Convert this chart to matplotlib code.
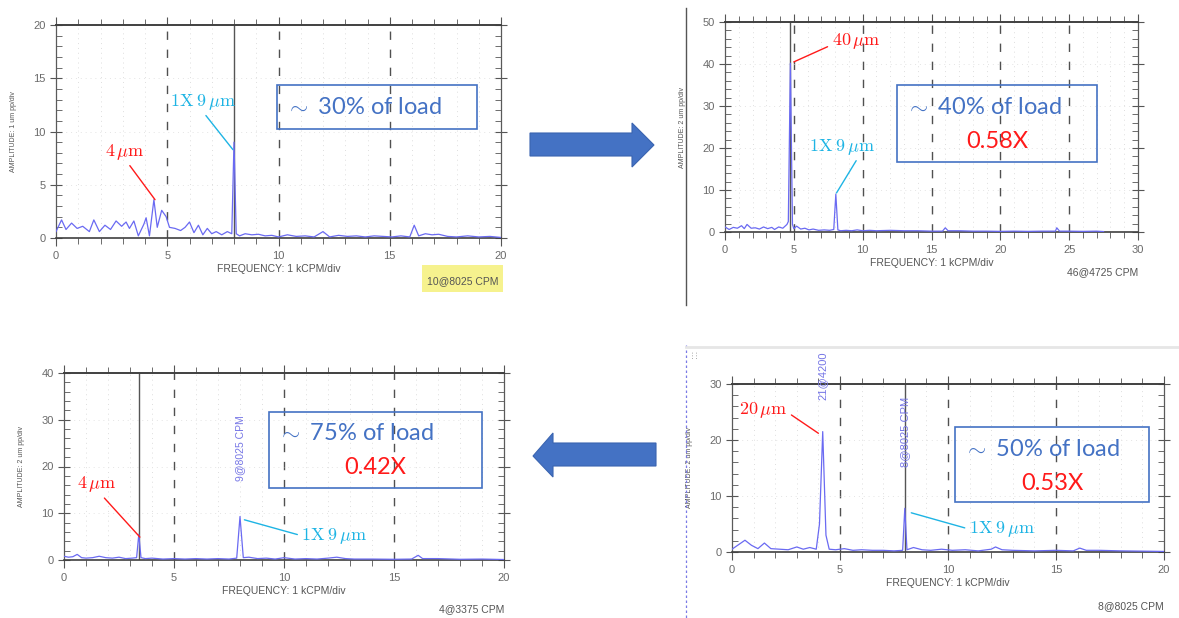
import matplotlib
matplotlib.use('Agg')
import matplotlib.pyplot as plt
import matplotlib.ticker as ticker
import matplotlib.patches as patches
import matplotlib.lines as mlines

plt.rcParams['mathtext.fontset'] = 'cm'

W, H = 1179, 618  # 圖片像素大小

# ---- 資料 (頻率 kCPM, 振幅) ----
# 約 30% 負載
freq_30 = [0.0, 0.25, 0.45, 0.7, 0.95, 1.2, 1.5, 1.7, 1.95, 2.2, 2.45, 2.7, 2.95, 3.15, 3.3, 3.5, 3.7, 3.95,
           4.05, 4.2, 4.4, 4.55, 4.75, 4.95, 5.1, 5.35, 5.6, 5.8, 6.0, 6.2, 6.4, 6.6, 6.8, 7.0, 7.2, 7.45, 7.7,
           7.9, 8.0, 8.1, 8.25, 8.5, 8.8, 9.1, 9.4, 9.7, 10.0, 10.4, 10.8, 11.2, 11.6, 12.0, 12.3, 12.7, 13.1,
           13.5, 13.9, 14.3, 14.7, 15.1, 15.5, 15.9, 16.1, 16.3, 16.6, 16.9, 17.2, 17.6, 18.0, 18.5, 19.0, 19.5, 20.0]
amp_30 = [0.6, 1.7, 0.8, 1.4, 0.9, 1.1, 0.6, 1.7, 0.6, 1.2, 0.8, 1.6, 1.1, 1.5, 0.9, 1.6, 0.2, 1.3,
          1.9, 0.2, 3.6, 1.0, 2.6, 2.0, 1.0, 0.9, 0.7, 1.0, 1.5, 0.5, 1.2, 0.3, 0.9, 0.4, 0.6, 0.3, 0.6,
          0.4, 9.0, 0.4, 0.2, 0.4, 0.3, 0.35, 0.2, 0.25, 0.1, 0.3, 0.15, 0.2, 0.1, 0.6, 0.1, 0.25, 0.15,
          0.2, 0.1, 0.2, 0.15, 0.1, 0.2, 0.1, 1.2, 0.2, 0.4, 0.3, 0.35, 0.15, 0.1, 0.2, 0.1, 0.15, 0.05]

# 約 40% 負載
freq_40 = [0.0, 0.3, 0.6, 0.9, 1.2, 1.4, 1.6, 1.9, 2.2, 2.5, 2.8, 3.1, 3.4, 3.6, 3.9, 4.2, 4.5, 4.6, 4.75,
           4.9, 5.0, 5.2, 5.5, 5.8, 6.1, 6.4, 6.8, 7.2, 7.6, 7.9, 8.05, 8.2, 8.4, 8.8, 9.2, 9.6, 10.0, 10.5,
           11.0, 12.0, 13.0, 14.0, 15.0, 15.8, 16.0, 16.2, 17.0, 18.0, 19.0, 20.0, 21.0, 22.0, 23.0, 24.0,
           24.1, 24.3, 25.0, 26.0, 27.0, 27.5]
amp_40 = [1.2, 0.6, 1.1, 0.9, 1.5, 0.8, 1.8, 0.9, 1.0, 0.7, 1.2, 0.8, 1.1, 0.6, 1.2, 0.9, 1.8, 2.5, 40.2,
          1.8, 0.8, 1.4, 0.7, 0.9, 0.5, 0.7, 0.4, 0.5, 0.4, 0.6, 9.0, 0.5, 0.3, 0.4, 0.3, 0.5, 0.3, 0.4,
          0.3, 0.4, 0.3, 0.3, 0.2, 0.2, 1.0, 0.3, 0.3, 0.2, 0.2, 0.15, 0.2, 0.15, 0.2, 0.2,
          1.0, 0.2, 0.2, 0.15, 0.2, 0.1]

# 約 75% 負載
freq_75 = [0.0, 0.2, 0.4, 0.6, 0.8, 1.0, 1.3, 1.6, 1.9, 2.2, 2.5, 2.8, 3.1, 3.3, 3.4, 3.5, 3.7, 4.0, 4.5,
           5.0, 5.5, 6.0, 6.5, 7.0, 7.5, 7.85, 8.0, 8.15, 8.4, 8.8, 9.2, 9.6, 10.0, 10.5, 11.0, 11.5, 12.0,
           12.4, 12.8, 13.2, 14.0, 15.0, 15.8, 16.1, 16.3, 17.0, 18.0, 19.0, 20.0]
amp_75 = [0.8, 0.6, 0.7, 1.2, 0.5, 0.4, 0.5, 0.8, 0.5, 0.4, 0.6, 0.3, 0.4, 0.5, 5.5, 0.5, 0.3, 0.4, 0.2,
          0.3, 0.2, 0.3, 0.2, 0.3, 0.2, 0.4, 9.3, 0.5, 0.6, 0.3, 0.4, 0.2, 0.5, 0.2, 0.3, 0.2, 0.4,
          0.6, 0.3, 0.2, 0.2, 0.15, 0.2, 1.0, 0.3, 0.3, 0.15, 0.2, 0.1]

# 約 50% 負載
freq_50 = [0.0, 0.3, 0.6, 0.9, 1.2, 1.5, 1.8, 2.2, 2.6, 3.0, 3.3, 3.6, 3.9, 4.05, 4.2, 4.35, 4.5, 4.8, 5.2,
           5.6, 6.0, 6.5, 7.0, 7.5, 7.9, 8.0, 8.1, 8.4, 8.8, 9.2, 9.7, 10.2, 10.8, 11.4, 12.0, 12.2, 12.5,
           13.0, 14.0, 15.0, 15.8, 16.1, 16.4, 17.0, 18.0, 19.0, 20.0]
amp_50 = [0.5, 1.3, 2.1, 1.2, 0.6, 1.6, 0.6, 0.5, 0.4, 0.9, 0.5, 0.8, 0.5, 5.0, 21.5, 3.0, 0.5, 0.4, 0.6,
          0.3, 0.4, 0.3, 0.3, 0.2, 0.3, 7.8, 0.4, 0.8, 0.4, 0.3, 0.5, 0.3, 0.4, 0.2, 0.5, 0.9, 0.4,
          0.3, 0.2, 0.3, 0.2, 0.7, 0.3, 0.3, 0.2, 0.15, 0.1]

BLUE = '#4472C4'
TRACE = '#6a6af2'
RED = '#ff1a1a'
CYAN = '#1eb4e4'
NARROW = ['Liberation Sans Narrow', 'Liberation Sans', 'DejaVu Sans']

fig = plt.figure(figsize=(W / 100, H / 100), dpi=100)
fig.patch.set_facecolor('white')


def fbox(x0, y0, x1, y1):  # 像素座標轉成圖片比例 [left, bottom, width, height]
    return [x0 / W, 1 - y1 / H, (x1 - x0) / W, (y1 - y0) / H]


def fxy(x, y):  # 像素點轉成圖片比例
    return x / W, 1 - y / H


def spectrum(box, freq, amp, xmax, ymax, ymajor, yminor, cursor, ylabel):
    ax = fig.add_axes(fbox(*box))
    ax.set_facecolor('none')
    ax.set_xlim(0, xmax)
    ax.set_ylim(0, ymax)
    ax.xaxis.set_major_locator(ticker.MultipleLocator(5))
    ax.xaxis.set_minor_locator(ticker.MultipleLocator(1))
    ax.yaxis.set_major_locator(ticker.MultipleLocator(ymajor))
    ax.yaxis.set_minor_locator(ticker.MultipleLocator(yminor))
    ax.grid(which='minor', axis='x', color='#dedede', ls=(0, (1, 4)), lw=0.7)
    ax.grid(which='major', axis='y', color='#e4e4e4', ls=(0, (1, 4)), lw=0.7)
    for v in range(5, int(xmax), 5):  # 粗虛線格線
        ax.axvline(v, color='#505050', ls=(0, (6, 7)), lw=1.0, zorder=1)
    ax.axvline(cursor, color='#555555', lw=1.0, zorder=2)
    ax.plot(freq, amp, color=TRACE, lw=0.9, zorder=3)
    ax.tick_params(axis='x', which='both', direction='out', top=True, bottom=True,
                   colors='#555555', labelsize=8, labelcolor='#6a6a6a')
    ax.tick_params(axis='x', which='major', length=6)
    ax.tick_params(axis='x', which='minor', length=4)
    ax.tick_params(axis='y', which='both', direction='in', left=True, right=True,
                   colors='#555555', labelsize=8, labelcolor='#6a6a6a')
    ax.tick_params(axis='y', which='major', direction='inout', length=8)
    ax.tick_params(axis='y', which='minor', length=4)
    for lab in ax.get_xticklabels() + ax.get_yticklabels():
        lab.set_fontfamily(NARROW)
    for s in ax.spines.values():
        s.set_color('#5a5a5a')
        s.set_linewidth(0.9)
    ax.spines['top'].set_linewidth(1.4)
    ax.spines['top'].set_color('#404040')
    ax.spines['bottom'].set_linewidth(1.2)
    ax.spines['bottom'].set_color('#404040')
    ax.set_xlabel('FREQUENCY: 1 kCPM/div', fontsize=7.5, color='#555555', family=NARROW, labelpad=2)
    ax.set_ylabel(ylabel, fontsize=5, color='#555555', family=NARROW, labelpad=12)
    return ax


def label_box(box, line1, line2=None):
    x0, y0, x1, y1 = box
    fig.patches.append(patches.Rectangle(fxy(x0, y1), (x1 - x0) / W, (y1 - y0) / H, fill=False,
                                         edgecolor=BLUE, lw=1.2, transform=fig.transFigure))
    cx = (x0 + x1) / 2
    if line2 is None:
        fig.text(*fxy(x0 + 8, (y0 + y1) / 2), line1, color=BLUE, fontsize=17, family='Lato',
                 ha='left', va='center')
    else:
        fig.text(*fxy(x0 + 8, y0 + 22), line1, color=BLUE, fontsize=17, family='Lato',
                 ha='left', va='center')
        fig.text(*fxy(cx, y0 + 56), line2, color=RED, fontsize=17, family='Lato',
                 ha='center', va='center')


def note(ax, txt, color, xy, xytext, relpos):
    ax.annotate(txt, xy=xy, xytext=xytext, color=color, fontsize=13, ha='center', va='center',
                annotation_clip=False,
                arrowprops=dict(arrowstyle='-', color=color, lw=1.0, relpos=relpos,
                                shrinkA=1, shrinkB=0))


MU4 = r'$4\,\mu\mathrm{m}$'
ONEX = r'$1\mathrm{X}\;9\,\mu\mathrm{m}$'

# ---- 左上：30% ----
ax1 = spectrum((56, 25, 501, 238), freq_30, amp_30, 20, 20, 5, 1, 8.0, 'AMPLITUDE: 1 um pp/div')
note(ax1, MU4, RED, (4.45, 3.6), (3.1, 8.1), (0.55, 0.0))
note(ax1, ONEX, CYAN, (7.95, 8.3), (6.6, 12.8), (0.5, 0.0))
label_box((277, 85, 477, 129), r'$\sim$ 30% of load')
fig.patches.append(patches.Rectangle(fxy(422, 292), 81 / W, 27 / H, facecolor='#f6f28e', edgecolor='none',
                                     transform=fig.transFigure))
fig.text(*fxy(463, 281), '10@8025 CPM', fontsize=7.5, color='#555555', family=NARROW, ha='center', va='center')

# ---- 右上：40% ----
ax2 = spectrum((725, 22, 1138, 232), freq_40, amp_40, 30, 50, 10, 2, 4.75, 'AMPLITUDE: 2 um pp/div')
note(ax2, r'$40\,\mu\mathrm{m}$', RED, (5.0, 40.5), (9.5, 45.5), (0.0, 0.3))
note(ax2, ONEX, CYAN, (8.1, 9.3), (8.5, 20.3), (0.75, 0.0))
label_box((897, 85, 1097, 162), r'$\sim$ 40% of load', '0.58X')
fig.text(*fxy(1138, 272), '46@4725 CPM', fontsize=7.5, color='#555555', family=NARROW, ha='right', va='center')
fig.lines.append(mlines.Line2D([686 / W, 686 / W], [1 - 8 / H, 1 - 305 / H], color='#555555', lw=1.0,
                               transform=fig.transFigure))

# ---- 左下：75% ----
ax3 = spectrum((64, 373, 504, 560), freq_75, amp_75, 20, 40, 10, 2, 3.4, 'AMPLITUDE: 2 um pp/div')
note(ax3, MU4, RED, (3.45, 4.9), (1.5, 16.2), (0.6, 0.0))
note(ax3, ONEX, CYAN, (8.2, 8.6), (12.3, 5.2), (0.0, 0.5))
ax3.text(8.0, 24, '9@8025 CPM', rotation=90, color='#7676e6', fontsize=7.5, family=NARROW,
         ha='center', va='center')
label_box((269, 412, 482, 488), r'$\sim$ 75% of load', '0.42X')
fig.text(*fxy(504, 609), '4@3375 CPM', fontsize=7.5, color='#555555', family=NARROW, ha='right', va='center')

# ---- 右下：50% ----
ax4 = spectrum((732, 384, 1164, 552), freq_50, amp_50, 20, 30, 10, 2, 8.0, 'AMPLITUDE: 2 um pp/div')
note(ax4, r'$20\,\mu\mathrm{m}$', RED, (4.0, 21.2), (1.45, 25.3), (1.0, 0.4))
note(ax4, ONEX, CYAN, (8.3, 7.0), (12.5, 4.1), (0.0, 0.5))
ax4.text(4.2, 31.4, '21@4200', rotation=90, color='#7676e6', fontsize=8, family=NARROW,
         ha='center', va='center', clip_on=False)
ax4.text(8.0, 21.5, '8@8025 CPM', rotation=90, color='#7676e6', fontsize=8, family=NARROW,
         ha='center', va='center')
label_box((955, 427, 1149, 502), r'$\sim$ 50% of load', '0.53X')
fig.text(*fxy(1164, 606), '8@8025 CPM', fontsize=7.5, color='#555555', family=NARROW, ha='right', va='center')
fig.lines.append(mlines.Line2D([686 / W, 686 / W], [1 - 345 / H, 0], color='#7a7ae6', lw=0.9,
                               ls=(0, (2, 2)), transform=fig.transFigure))
fig.lines.append(mlines.Line2D([686 / W, 1], [1 - 347 / H, 1 - 347 / H], color='#e6e6e6', lw=2.0,
                               transform=fig.transFigure))
fig.text(*fxy(694, 354), ':::', fontsize=6, color='#777777', ha='center', va='center', rotation=90)

# ---- 藍色箭頭 ----
right_arrow = [(530, 133), (632, 133), (632, 123), (654, 145), (632, 167), (632, 156), (530, 156)]
left_arrow = [(656, 443), (553, 443), (553, 433), (533, 456), (553, 477), (553, 466), (656, 466)]
for pts in (right_arrow, left_arrow):
    fig.patches.append(patches.Polygon([fxy(x, y) for x, y in pts], closed=True, facecolor=BLUE,
                                       edgecolor='#3a64b0', lw=0.8, transform=fig.transFigure))

plt.savefig('out.png', dpi=100)
